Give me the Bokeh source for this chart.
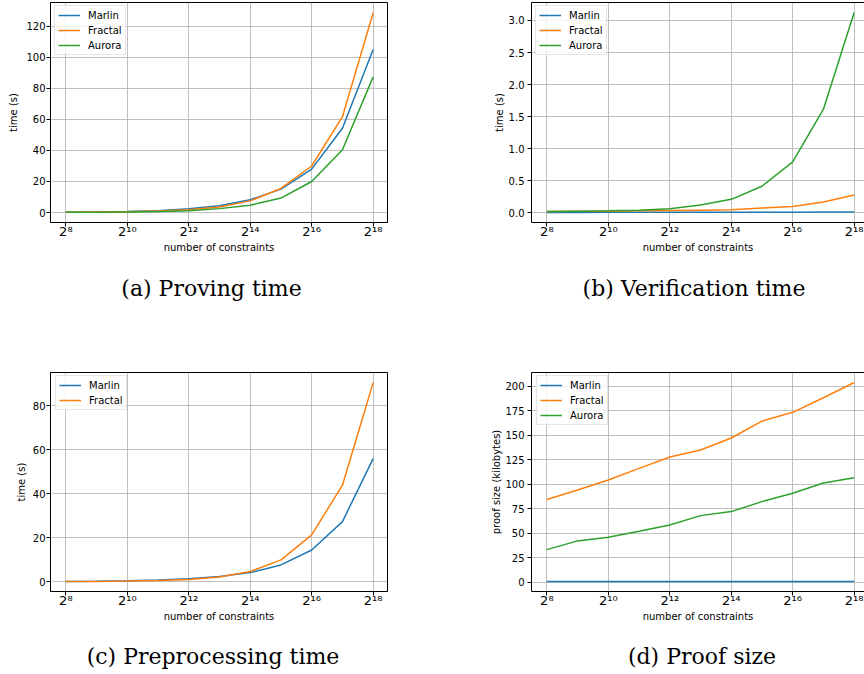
from bokeh.plotting import figure
from bokeh.layouts import column, row
from bokeh.models import (Range1d, FixedTicker, Legend, LogAxis, PrintfTickFormatter)
from bokeh.core.properties import value
from bokeh.embed import file_html
from bokeh.resources import INLINE

# ---------------- data ----------------
constraints = [256, 512, 1024, 2048, 4096, 8192, 16384, 32768, 65536, 131072, 262144]
x_tick_values = [256, 1024, 4096, 16384, 65536, 262144]
x_tick_labels = ["2⁸", "2¹⁰", "2¹²", "2¹⁴", "2¹⁶", "2¹⁸"]

prove_marlin = [0.2, 0.3, 0.6, 1.2, 2.4, 4.3, 8.2, 15.1, 28.0, 54.3, 105.1]
prove_fractal = [0.15, 0.3, 0.5, 0.9, 1.8, 3.5, 7.5, 15.5, 30.0, 61.8, 128.8]
prove_aurora = [0.1, 0.15, 0.3, 0.6, 1.2, 2.5, 4.7, 9.3, 20.0, 40.5, 87.5]

verify_marlin = [0.005, 0.005, 0.006, 0.006, 0.006, 0.007, 0.007, 0.008, 0.009, 0.010, 0.012]
verify_fractal = [0.02, 0.022, 0.025, 0.03, 0.035, 0.04, 0.047, 0.073, 0.099, 0.167, 0.277]
verify_aurora = [0.02, 0.025, 0.03, 0.04, 0.063, 0.12, 0.209, 0.413, 0.794, 1.615, 3.125]

prep_marlin = [0.1, 0.2, 0.4, 0.7, 1.3, 2.3, 4.1, 7.6, 14.4, 27.3, 56.0]
prep_fractal = [0.05, 0.1, 0.25, 0.5, 1.0, 2.1, 4.6, 9.9, 21.3, 43.9, 90.6]

size_marlin = [0.7, 0.7, 0.7, 0.7, 0.7, 0.7, 0.7, 0.7, 0.7, 0.7, 0.7]
size_fractal = [84.4, 94.2, 104.4, 116.3, 127.9, 135.0, 147.3, 164.6, 173.5, 188.4, 204.0]
size_aurora = [33.3, 42.2, 45.9, 52.0, 58.5, 68.0, 72.1, 82.3, 90.8, 101.4, 106.8]

ticks_a = [0, 20, 40, 60, 80, 100, 120]
ticks_b = [0.0, 0.5, 1.0, 1.5, 2.0, 2.5, 3.0]
ticks_c = [0, 20, 40, 60, 80]
ticks_d = [0, 25, 50, 75, 100, 125, 150, 175, 200]

captions = ["(a) Proving time", "(b) Verification time",
            "(c) Preprocessing time", "(d) Proof size"]

COLORS = {"Marlin": "#1f77b4", "Fractal": "#ff7f0e", "Aurora": "#2ca02c"}
FONT = "DejaVu Sans"
PX_PER_LOG2 = 30.73  # horizontal scale of every panel (px per power of two)


def spine_axis(cls):
    return cls(ticker=FixedTicker(ticks=[]), major_tick_out=0, major_tick_in=0,
               minor_tick_out=0, minor_tick_in=0, major_label_text_font_size="0px",
               major_label_standoff=0, axis_label_standoff=0,
               axis_line_color="black", axis_line_width=1)


def make_panel(width, height, mbl, mbr, mbt, mbb, yr, yticks, ylabel, series,
               leg_x, leg_y, label_standoff_y, lab_standoff,
               outline=False, top_spine=False, yfmt=None):
    frame_w = width - mbl - mbr
    x_end = 2 ** (7.5 + frame_w / PX_PER_LOG2)
    p = figure(width=width, height=height, x_axis_type="log",
               x_range=Range1d(2 ** 7.5, x_end), y_range=Range1d(*yr),
               output_backend="svg", toolbar_location=None, tools="",
               min_border_left=mbl, min_border_right=mbr,
               min_border_top=mbt, min_border_bottom=mbb)
    p.background_fill_color = "white"
    p.border_fill_color = "white"
    p.outline_line_color = "black" if outline else None
    p.outline_line_width = 1

    p.xaxis.ticker = FixedTicker(ticks=x_tick_values)
    p.xaxis.major_label_overrides = dict(zip(x_tick_values, x_tick_labels))
    p.yaxis.ticker = FixedTicker(ticks=yticks)
    if yfmt:
        p.yaxis.formatter = PrintfTickFormatter(format=yfmt)
    for ax in (p.xaxis, p.yaxis):
        ax.axis_line_color = "black"
        ax.axis_line_width = 1
        ax.major_tick_line_color = "black"
        ax.major_tick_out = 4
        ax.major_tick_in = 0
        ax.minor_tick_line_color = None
        ax.major_label_text_font = FONT
        ax.major_label_text_color = "black"
        ax.axis_label_text_font = FONT
        ax.axis_label_text_font_size = "10px"
        ax.axis_label_text_font_style = "normal"
        ax.axis_label_text_color = "black"
    p.xaxis.major_label_text_font_size = "13px"
    p.xaxis.major_label_standoff = -3
    p.xaxis.axis_label_standoff = 0
    p.xaxis.axis_label = "number of constraints"
    p.yaxis.major_label_text_font_size = "10px"
    p.yaxis.major_label_standoff = label_standoff_y
    p.yaxis.axis_label_standoff = lab_standoff
    p.yaxis.axis_label = ylabel

    for g in (p.xgrid, p.ygrid):
        g.grid_line_color = "#b0b0b0"
        g.grid_line_width = 0.8

    if top_spine:
        p.add_layout(spine_axis(LogAxis), "above")

    items = []
    for name, vals in series:
        r = p.line(constraints, vals, line_color=COLORS[name], line_width=1.5)
        items.append((name, [r]))
    leg = Legend(items=items, location=(leg_x, leg_y), padding=3, spacing=3,
                 label_height=12, glyph_height=12, glyph_width=22, label_standoff=8,
                 label_text_font=FONT, label_text_font_size="10px", label_text_color="black",
                 border_line_color="#cccccc", border_line_width=1,
                 background_fill_color="white", background_fill_alpha=0.8, margin=0)
    p.add_layout(leg, "center")
    return p


def caption_fig(width, height, text, cx, baseline):
    c = figure(width=width, height=height, x_range=Range1d(0, width),
               y_range=Range1d(0, height), output_backend="svg",
               toolbar_location=None, tools="", min_border=0,
               x_axis_location=None, y_axis_location=None)
    c.grid.visible = False
    c.outline_line_color = None
    c.background_fill_color = "white"
    c.border_fill_color = "white"
    c.text(x=[cx], y=[baseline], text=[text], text_font=value("DejaVu Serif"),
           text_font_size="22px", text_align="center", text_baseline="alphabetic",
           text_color="black")
    return c


pa = make_panel(448, 266, 50, 61, 2, 44, (-6.45, 135.45), ticks_a, "time (s)",
                [("Marlin", prove_marlin), ("Fractal", prove_fractal), ("Aurora", prove_aurora)],
                4, 167, 1, 4, outline=True)
pb = make_panel(416, 266, 83, 0, 2, 44, (-0.152, 3.28), ticks_b, "time (s)",
                [("Marlin", verify_marlin), ("Fractal", verify_fractal), ("Aurora", verify_aurora)],
                4, 167, 3, 1, top_spine=True, yfmt="%.1f")
pc = make_panel(448, 298, 50, 61, 36, 43, (-4.5, 95.2), ticks_c, "time (s)",
                [("Marlin", prep_marlin), ("Fractal", prep_fractal)],
                5, 181, 1, 3, outline=True)
pd_ = make_panel(416, 298, 83, 0, 36, 43, (-9.5, 214.2), ticks_d, "proof size (kilobytes)",
                 [("Marlin", size_marlin), ("Fractal", size_fractal), ("Aurora", size_aurora)],
                 5, 166, 3, 0, top_spine=True)

ca = caption_fig(448, 70, captions[0], 211, 48)
cb = caption_fig(416, 70, captions[1], 245.5, 48)
cc = caption_fig(448, 40, captions[2], 212.5, 18)
cd = caption_fig(416, 40, captions[3], 253.5, 18)

layout = column(row(pa, pb, spacing=0), row(ca, cb, spacing=0),
                row(pc, pd_, spacing=0), row(cc, cd, spacing=0), spacing=0)

with open("out.html", "w") as f:
    f.write(file_html(layout, INLINE))
